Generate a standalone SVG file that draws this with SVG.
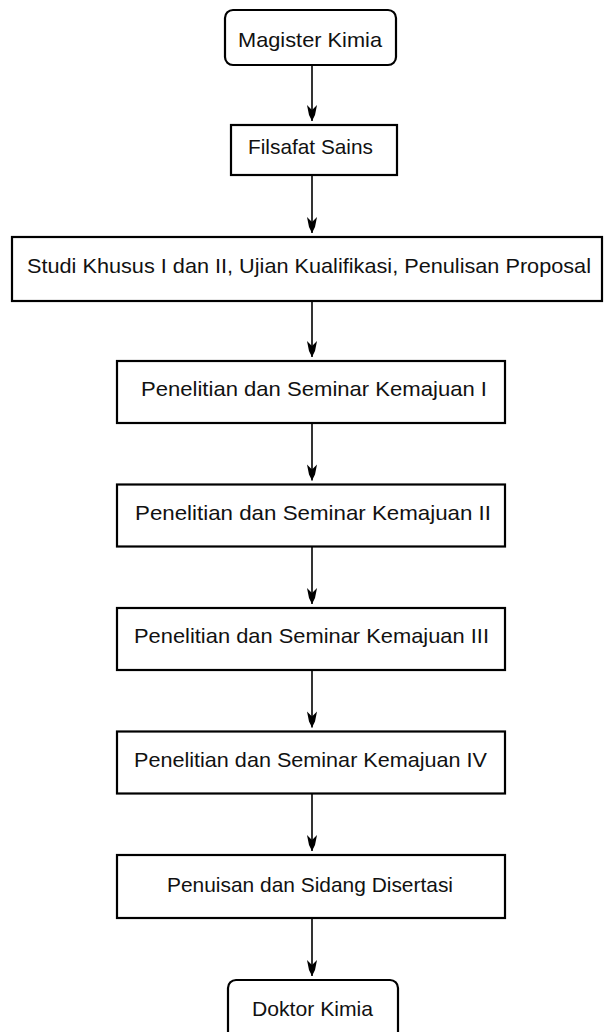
<svg xmlns="http://www.w3.org/2000/svg" width="604" height="1032" viewBox="0 0 604 1032">
<style>
.box{fill:#fff;stroke:#000;stroke-width:2.2}
.lbl{font-family:"Liberation Sans",Arial,sans-serif;font-size:21px;fill:#111}
.con{stroke:#000;stroke-width:1.6;fill:none}
</style>
<defs>
<marker id="ah" markerUnits="userSpaceOnUse" markerWidth="20" markerHeight="14" viewBox="-18 -7 20 14" refX="0" refY="0" orient="auto">
<path d="M0,0 L-6,-3 L-16,-5 L-11,0 L-16,5 L-6,3 Z" fill="#000"/>
</marker>
</defs>
<rect width="604" height="1032" fill="#fff"/>
<g id="connectors">
<line class="con" x1="312" y1="65" x2="312" y2="121" marker-end="url(#ah)"/>
<line class="con" x1="312" y1="175" x2="312" y2="233" marker-end="url(#ah)"/>
<line class="con" x1="312" y1="301" x2="312" y2="357" marker-end="url(#ah)"/>
<line class="con" x1="312" y1="423" x2="312" y2="480.5" marker-end="url(#ah)"/>
<line class="con" x1="312" y1="546.5" x2="312" y2="604" marker-end="url(#ah)"/>
<line class="con" x1="312" y1="670" x2="312" y2="727.5" marker-end="url(#ah)"/>
<line class="con" x1="312" y1="793.5" x2="312" y2="851" marker-end="url(#ah)"/>
<line class="con" x1="312" y1="918" x2="312" y2="976" marker-end="url(#ah)"/>
</g>
<g id="magister">
<rect class="box" x="225" y="10" width="171" height="55" rx="8"/>
<text class="lbl" x="238" y="47" textLength="144" lengthAdjust="spacingAndGlyphs">Magister Kimia</text>
</g>
<g id="filsafat">
<rect class="box" x="231" y="125" width="166" height="50"/>
<text class="lbl" x="248" y="154" textLength="125" lengthAdjust="spacingAndGlyphs">Filsafat Sains</text>
</g>
<g id="studi">
<rect class="box" x="12" y="237" width="590" height="64"/>
<text class="lbl" x="27" y="273" textLength="564" lengthAdjust="spacingAndGlyphs">Studi Khusus I dan II, Ujian Kualifikasi, Penulisan Proposal</text>
</g>
<g id="penelitian1">
<rect class="box" x="117" y="361" width="388" height="62"/>
<text class="lbl" x="141" y="396" textLength="346" lengthAdjust="spacingAndGlyphs">Penelitian dan Seminar Kemajuan I</text>
</g>
<g id="penelitian2">
<rect class="box" x="117" y="484.5" width="388" height="62"/>
<text class="lbl" x="135" y="520" textLength="356" lengthAdjust="spacingAndGlyphs">Penelitian dan Seminar Kemajuan II</text>
</g>
<g id="penelitian3">
<rect class="box" x="117" y="608" width="388" height="62"/>
<text class="lbl" x="134" y="643" textLength="355" lengthAdjust="spacingAndGlyphs">Penelitian dan Seminar Kemajuan III</text>
</g>
<g id="penelitian4">
<rect class="box" x="117" y="731.5" width="388" height="62"/>
<text class="lbl" x="134" y="767" textLength="353" lengthAdjust="spacingAndGlyphs">Penelitian dan Seminar Kemajuan IV</text>
</g>
<g id="penuisan">
<rect class="box" x="117" y="855" width="388" height="63"/>
<text class="lbl" x="167" y="892" textLength="286" lengthAdjust="spacingAndGlyphs">Penuisan dan Sidang Disertasi</text>
</g>
<g id="doktor">
<rect class="box" x="228" y="980" width="170" height="62" rx="8"/>
<text class="lbl" x="252" y="1016" textLength="121" lengthAdjust="spacingAndGlyphs">Doktor Kimia</text>
</g>
</svg>
